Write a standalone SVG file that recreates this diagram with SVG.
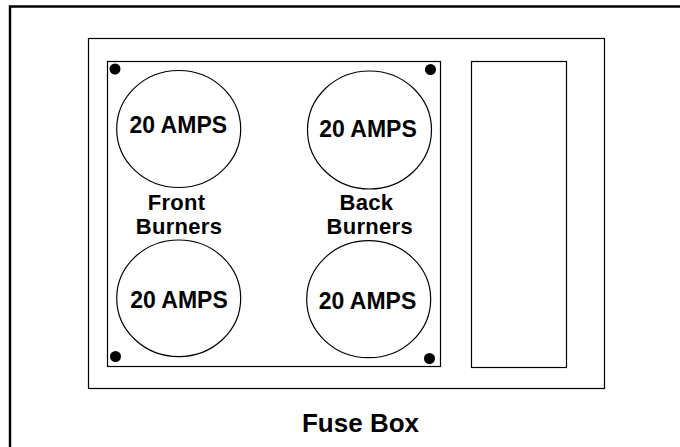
<svg xmlns="http://www.w3.org/2000/svg" width="680" height="447" viewBox="0 0 680 447">
<style>
.t{font-family:"Liberation Sans",Arial,sans-serif;font-weight:bold;fill:#000;text-anchor:middle}
.a{font-size:23px}
.l{font-size:22px;letter-spacing:0.3px}
.f{font-size:26px}
.ln{fill:none;stroke:#000;stroke-width:1.2}
.dot{fill:#000}
</style>
<rect width="680" height="447" fill="#fff"/>
<g id="frame">
<path d="M10,447 V6.5 H680" fill="none" stroke="#000" stroke-width="2.4"/>
</g>
<g id="fuse-box">
<rect class="ln" x="88.5" y="38.5" width="516" height="350"/>
<text class="t f" x="360.5" y="432">Fuse Box</text>
</g>
<g id="panel">
<rect class="ln" x="107.5" y="61.5" width="333" height="305"/>
<circle class="dot" cx="115" cy="69" r="5.5"/>
<circle class="dot" cx="430.5" cy="69.5" r="5.5"/>
<circle class="dot" cx="115.5" cy="356.5" r="5.5"/>
<circle class="dot" cx="429.5" cy="358.5" r="5.5"/>
</g>
<g id="side-panel">
<rect class="ln" x="471.5" y="61.5" width="95" height="306"/>
</g>
<g id="fuse-front-top">
<ellipse class="ln" cx="178.7" cy="129" rx="62" ry="58.5" stroke-width="1"/>
<text class="t a" x="178.3" y="132.5">20 AMPS</text>
</g>
<g id="fuse-back-top">
<ellipse class="ln" cx="369.5" cy="130" rx="62" ry="59" stroke-width="1"/>
<text class="t a" x="368" y="136.5">20 AMPS</text>
</g>
<g id="fuse-front-bottom">
<ellipse class="ln" cx="178.7" cy="298.3" rx="62" ry="58.3" stroke-width="1"/>
<text class="t a" x="179" y="308.3">20 AMPS</text>
</g>
<g id="fuse-back-bottom">
<ellipse class="ln" cx="368.7" cy="299.2" rx="62" ry="58.5" stroke-width="1"/>
<text class="t a" x="367.5" y="309.3">20 AMPS</text>
</g>
<g id="label-front">
<text class="t l" x="176.5" y="209.5">Front</text>
<text class="t l" x="179" y="233.5">Burners</text>
</g>
<g id="label-back">
<text class="t l" x="366.5" y="209.5">Back</text>
<text class="t l" x="369.7" y="233.5">Burners</text>
</g>
<g id="connectors"></g>
</svg>
